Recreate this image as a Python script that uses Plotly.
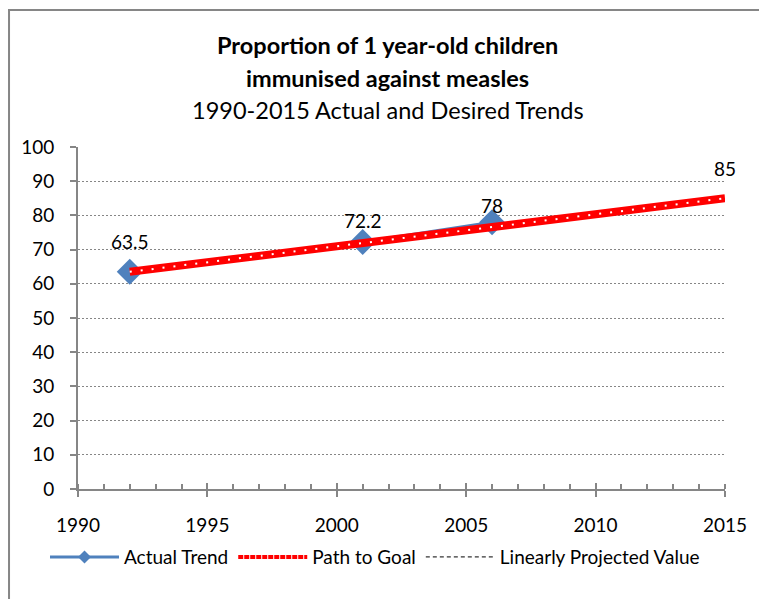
import plotly.graph_objects as go

# ---- data ----
actual_years = [1992, 2001, 2006]
actual_values = [63.5, 72.2, 78]
goal_years = [1992, 2015]
goal_values = [63.5, 85]
proj_years = [None]
proj_values = [None]
x_ticks = [1990, 1995, 2000, 2005, 2010, 2015]
y_ticks = [0, 10, 20, 30, 40, 50, 60, 70, 80, 90, 100]

FONT = "Lato"
GREY = "#868686"
BLUE = "#4F81BD"
RED = "#FF0000"

fig = go.Figure()

fig.add_trace(go.Scatter(
    x=actual_years, y=actual_values, mode="lines+markers", showlegend=False,
    line=dict(color=BLUE, width=3),
    marker=dict(symbol="diamond", size=20, color=BLUE),
))
fig.add_trace(go.Scatter(
    x=goal_years, y=goal_values, mode="lines", showlegend=False,
    line=dict(color=RED, width=8),
))
fig.add_trace(go.Scatter(
    x=goal_years, y=goal_values, mode="lines", showlegend=False,
    line=dict(color="white", width=2, dash="2px,9px"), hoverinfo="skip",
))
# legend entries
fig.add_trace(go.Scatter(
    x=[None], y=[None], mode="lines+markers", name="Actual Trend",
    line=dict(color=BLUE, width=3), marker=dict(symbol="diamond", size=10, color=BLUE),
))
fig.add_trace(go.Scatter(
    x=[None], y=[None], mode="lines", name="Path to Goal",
    line=dict(color=RED, width=4, dash="5px,1px"),
))
fig.add_trace(go.Scatter(
    x=proj_years, y=proj_values, mode="lines", name="Linearly Projected Value",
    line=dict(color="black", width=1, dash="4px,3px"),
))
# invisible trace on overlay axis for inside major ticks
fig.add_trace(go.Scatter(x=[x_ticks[0]], y=[0], xaxis="x2", mode="markers",
                         marker=dict(opacity=0), showlegend=False, hoverinfo="skip"))

# data labels
label_points = [(actual_years[0], actual_values[0]), (actual_years[1], actual_values[1]),
                (actual_years[2], actual_values[2]), (goal_years[-1], goal_values[-1])]
label_shift = [30, 22, 17, 30]
for (xv, yv), sh in zip(label_points, label_shift):
    fig.add_annotation(x=xv, y=yv, text=("%g" % yv), showarrow=False, yshift=sh,
                       yanchor="middle",
                       font=dict(family=FONT, size=19, color="black"))

# titles
fig.add_annotation(xref="paper", yref="paper", x=0.479, y=1.298, showarrow=False,
                   yanchor="middle", text="<b>Proportion of 1 year-old children</b>",
                   font=dict(family=FONT, size=23.5, color="black"))
fig.add_annotation(xref="paper", yref="paper", x=0.479, y=1.202, showarrow=False,
                   yanchor="middle", text="<b>immunised against measles</b>",
                   font=dict(family=FONT, size=23.5, color="black"))
fig.add_annotation(xref="paper", yref="paper", x=0.479, y=1.108, showarrow=False,
                   yanchor="middle", text="1990-2015 Actual and Desired Trends",
                   font=dict(family=FONT, size=23.5, color="black"))

# outer border
fig.add_shape(type="rect", xref="paper", yref="paper",
              x0=-0.1066, x1=1.2, y0=-0.5, y1=1.4006,
              line=dict(color=GREY, width=2), fillcolor="rgba(0,0,0,0)", layer="below")

fig.update_layout(
    width=759, height=591,
    margin=dict(l=70, r=42, t=139, b=110, autoexpand=False),
    paper_bgcolor="white", plot_bgcolor="white",
    font=dict(family=FONT, size=19, color="black"),
    showlegend=True,
    legend=dict(orientation="h", x=-0.051, xanchor="left", y=-0.199, yanchor="middle",
                font=dict(family=FONT, size=19, color="black"), itemwidth=69,
                bgcolor="rgba(0,0,0,0)", traceorder="normal"),
    xaxis=dict(range=[1990, 2015], tickvals=x_ticks, ticks="outside", ticklen=6,
               tickcolor=GREY, tickwidth=2, showline=True, linecolor=GREY, linewidth=2,
               showgrid=False, zeroline=False, ticklabelstandoff=12, automargin=False,
               minor=dict(dtick=1, ticks="inside", ticklen=5, tickcolor=GREY, tickwidth=2,
                          showgrid=False),
               tickfont=dict(family=FONT, size=19)),
    xaxis2=dict(range=[1990, 2015], overlaying="x", tickvals=x_ticks, ticks="inside",
                ticklen=6, tickcolor=GREY, tickwidth=2, showticklabels=False,
                showgrid=False, zeroline=False, showline=False, side="bottom"),
    yaxis=dict(range=[0, 100], tickvals=y_ticks, ticks="outside", ticklen=6,
               tickcolor=GREY, tickwidth=2, showline=True, linecolor=GREY, linewidth=2,
               showgrid=True, gridcolor=GREY, gridwidth=1, griddash="2px,2px",
               zeroline=False, ticklabelstandoff=12, automargin=False,
               tickfont=dict(family=FONT, size=19)),
)

fig.write_html("out.html")
